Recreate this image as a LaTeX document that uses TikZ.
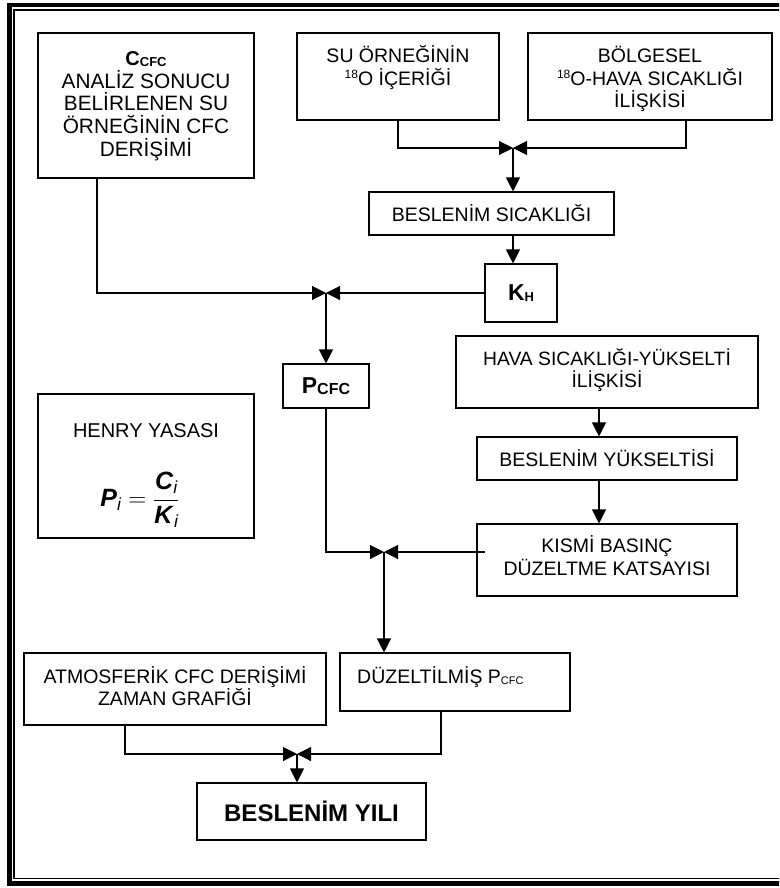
\documentclass[tikz,border=0pt]{standalone}
\usepackage{amsmath}
\usepackage{fontspec}
\setmainfont{Liberation Sans}
\usetikzlibrary{arrows.meta,calc}
\newcommand{\lowtext}[2]{\raisebox{-1.2pt}{\fontsize{#1}{#1}\selectfont #2}}
\newcommand{\uptext}[1]{\raisebox{7pt}{\fontsize{12}{12}\selectfont #1}}
\newcommand{\toprl}[1]{\rule{0pt}{#1pt}}
\newcommand{\botrl}[1]{\rule[-#1pt]{0pt}{#1pt}}
\begin{document}
\begin{tikzpicture}[x=1pt,y=-1pt,
  box/.style={draw, line width=1.1pt, inner sep=0pt, align=center,
    font=\fontsize{19.5}{22.5}\selectfont},
  plain/.style={inner sep=0pt, align=center, font=\fontsize{19.5}{22.5}\selectfont},
  arr/.style={line width=1.1pt, -{Triangle[length=14pt,width=14pt]}},
]
\useasboundingbox (0,0) rectangle (779,888);
\begin{scope}
  \clip (0,0) rectangle (779,888);
  \draw[line width=4.3pt] (9.5,5.3) rectangle (800,883.5);
  \draw[line width=1.4pt] (14,10) rectangle (795,878.5);
\end{scope}

% boxes
\node[box, minimum width=216pt, minimum height=145pt, font=\fontsize{20.8}{22.8}\selectfont] (cbox) at (146,105.5)
  {\toprl{19}{\fontsize{20}{22}\selectfont\bfseries C\lowtext{13}{CFC}}\\ANALİZ SONUCU\\BELİRLENEN SU\\ÖRNEĞİNİN CFC\\DERİŞİMİ\botrl{8}};
\node[box, minimum width=202pt, minimum height=87pt] (su) at (398,76.5)
  {\toprl{20}SU ÖRNEĞİNİN\\\uptext{18}O İÇERİĞİ\botrl{24.5}};
\node[box, minimum width=244pt, minimum height=87pt] (bol) at (650,76.5)
  {\toprl{23}BÖLGESEL\\\uptext{18}O-HAVA SICAKLIĞI\\İLİŞKİSİ\botrl{5}};
\node[box, minimum width=245pt, minimum height=43pt] (bsic) at (491.5,213.5)
  {BESLENİM SICAKLIĞI};
\node[box, minimum width=72pt, minimum height=58pt] (kh) at (521,293)
  {{\fontsize{23}{24}\selectfont\bfseries K\lowtext{13}{H}}};
\node[box, minimum width=86pt, minimum height=44pt] (pcfc) at (326,386)
  {{\fontsize{23}{26}\selectfont\bfseries P\lowtext{16}{CFC}}};
\node[box, minimum width=216pt, minimum height=144pt] (henry) at (146,466) {};
\node[plain, anchor=base, font=\fontsize{20}{22.5}\selectfont] (henryt) at (146,437) {HENRY YASASI};
\node[plain, font=\fontsize{25}{28}\selectfont] (henryf) at (140,500)
  {$\displaystyle \textbf{\textit{P}}_{\textit{i}} = \frac{\textbf{\textit{C}}_{\textit{i}}}{\textbf{\textit{K}}_{\textit{i}}}$};
\node[box, minimum width=302pt, minimum height=72pt, font=\fontsize{19.3}{22.5}\selectfont] (hava) at (607,372)
  {\toprl{20}HAVA SICAKLIĞI-YÜKSELTİ\\İLİŞKİSİ\botrl{11}};
\node[box, minimum width=260pt, minimum height=43pt] (byuk) at (607,458.5)
  {BESLENİM YÜKSELTİSİ};
\node[box, minimum width=260pt, minimum height=72pt] (kismi) at (607,560)
  {\toprl{20}KISMİ BASINÇ\\DÜZELTME KATSAYISI\botrl{12}};
\node[box, minimum width=302pt, minimum height=72pt] (atm) at (175,689)
  {\toprl{20}ATMOSFERİK CFC DERİŞİMİ\\ZAMAN GRAFİĞİ\botrl{9}};
\node[box, minimum width=230pt, minimum height=58pt] (duz) at (455,682) {};
\node[plain, anchor=base west] (duzt) at (357,683)
  {DÜZELTİLMİŞ P\lowtext{11}{CFC}};
\node[box, minimum width=229pt, minimum height=57pt, font=\fontsize{24}{26}\selectfont\bfseries] (yili) at (311.5,811.5)
  {BESLENİM YILI};

% junction coordinates
\coordinate (j1) at (513,148);
\coordinate (j2) at (326,293);
\coordinate (j3) at (384,552);
\coordinate (j4) at (297,754);
\coordinate (ks) at (485,552);

% connectors
\draw[arr] (su.south) |- (j1);
\draw[arr] ([xshift=36pt]bol.south) |- (j1);
\draw[arr] (j1) -- (j1 |- bsic.north);
\draw[arr] (j1 |- bsic.south) -- (j1 |- kh.north);

\draw[arr] ([xshift=-49pt]cbox.south) |- (j2);
\draw[arr] (kh.west) -- (j2);
\draw[arr] (j2) -- (pcfc.north);

\draw[arr] (pcfc.south) |- (j3);
\draw[arr] (ks) -- (j3);
\draw[arr] (j3) -- (j3 |- duz.north);

\draw[arr] ([xshift=-8pt]hava.south) -- ([xshift=-8pt]byuk.north);
\draw[arr] ([xshift=-8pt]byuk.south) -- ([xshift=-8pt]kismi.north);

\draw[arr] ([xshift=-50pt]atm.south) |- (j4);
\draw[arr] ([xshift=-14pt]duz.south) |- (j4);
\draw[arr] (j4) -- (j4 |- yili.north);
\end{tikzpicture}
\end{document}
